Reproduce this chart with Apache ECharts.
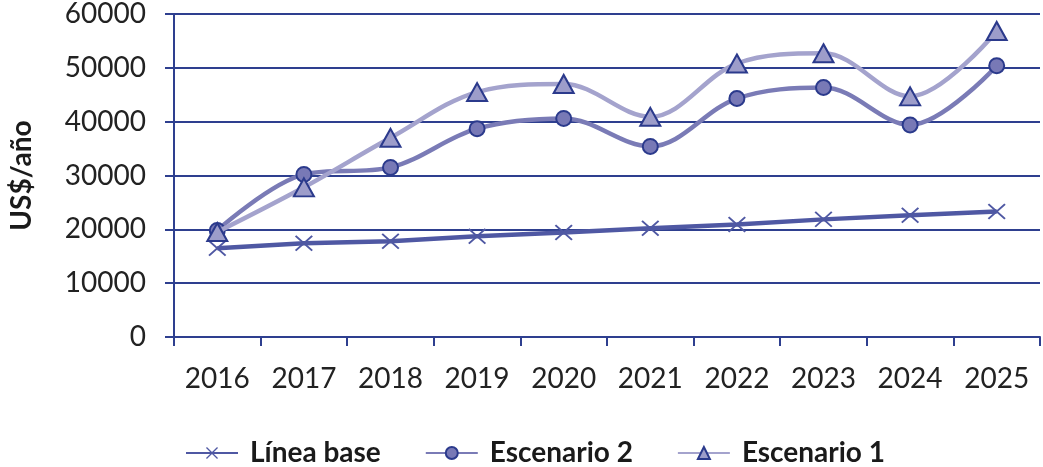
<!DOCTYPE html>
<html><head><meta charset="utf-8">
<script src="https://cdn.jsdelivr.net/npm/echarts@6/dist/echarts.min.js"></script>
<style>html,body{margin:0;padding:0;background:#fff}#c{width:1043px;height:467px}</style>
</head><body><div id="c"></div>
<script>
var categories = ['2016','2017','2018','2019','2020','2021','2022','2023','2024','2025'];
var lineaBase = [16500, 17400, 17800, 18700, 19400, 20200, 20900, 21850, 22600, 23300];
var escenario2 = [19800, 30200, 31500, 38700, 40600, 35400, 44300, 46350, 39400, 50400];
var escenario1 = [19500, 27800, 37000, 45500, 47000, 40900, 50800, 52700, 44700, 56850];
var yTicks = [0, 10000, 20000, 30000, 40000, 50000, 60000];

var axisColor = '#2e3f8f';
var font = 'Lato, "Open Sans", sans-serif';
var crossPath = 'path://M0,1.4 L1.4,0 L9,7.6 L16.6,0 L18,1.4 L10.4,9 L18,16.6 L16.6,18 L9,10.4 L1.4,18 L0,16.6 L7.6,9 Z';

var chart = echarts.init(document.getElementById('c'));
chart.setOption({
  animation: false,
  grid: {left: 172, right: 3, top: 13, bottom: 130, containLabel: false},
  legend: {
    top: 434, left: 180,
    itemWidth: 52, itemHeight: 15, itemGap: 44,
    textStyle: {fontFamily: font, fontWeight: 'bold', fontSize: 28, color: '#1a1a1a', padding: [0, 0, 0, 7]},
    data: ['Línea base', 'Escenario 2', 'Escenario 1']
  },
  xAxis: {
    type: 'category', data: categories, boundaryGap: true,
    axisLine: {lineStyle: {color: axisColor, width: 2}},
    axisTick: {show: true, length: 9, lineStyle: {color: axisColor, width: 2}, alignWithLabel: false},
    axisLabel: {fontFamily: font, fontSize: 28, color: '#222', margin: 28}
  },
  yAxis: {
    type: 'value', min: yTicks[0], max: yTicks[yTicks.length - 1], interval: yTicks[1] - yTicks[0],
    name: 'US$/año', nameLocation: 'middle', nameGap: 138, nameRotate: 90,
    nameTextStyle: {fontFamily: font, fontWeight: 'bold', fontSize: 28, color: '#1a1a1a'},
    axisLine: {show: true, lineStyle: {color: axisColor, width: 2}},
    axisTick: {show: true, length: 9, lineStyle: {color: axisColor, width: 2}},
    splitLine: {show: true, lineStyle: {color: axisColor, width: 2}},
    axisLabel: {fontFamily: font, fontSize: 28, color: '#222', margin: 28,
      formatter: function (v) { return String(v); }}
  },
  series: [
    {
      name: 'Línea base', type: 'line', data: lineaBase, smooth: false,
      symbol: crossPath, symbolSize: [18, 16],
      lineStyle: {color: '#4f58a3', width: 4.5},
      itemStyle: {color: '#4f58a3'}, z: 2
    },
    {
      name: 'Escenario 2', type: 'line', data: escenario2, smooth: 0.35,
      symbol: 'circle', symbolSize: 15,
      lineStyle: {color: '#7a7bb6', width: 4.5},
      itemStyle: {color: '#7879b6', borderColor: '#2b3a8c', borderWidth: 2}, z: 3
    },
    {
      name: 'Escenario 1', type: 'line', data: escenario1, smooth: 0.35,
      symbol: 'triangle', symbolSize: [20, 18],
      lineStyle: {color: '#a4a3cd', width: 4.5},
      itemStyle: {color: '#9d9dca', borderColor: '#2b3a8c', borderWidth: 2}, z: 4
    }
  ]
});
</script></body></html>
